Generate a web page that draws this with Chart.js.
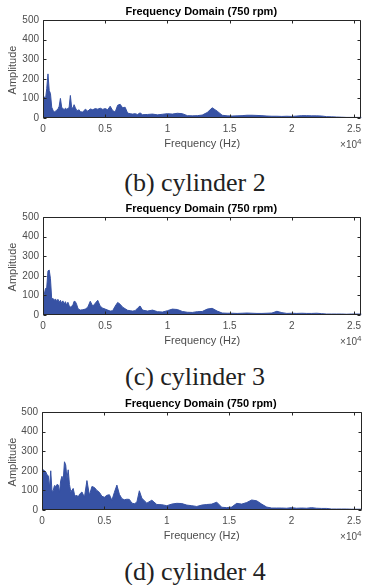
<!DOCTYPE html>
<html><head><meta charset="utf-8">
<script src="https://cdn.jsdelivr.net/npm/chart.js@4.4.0/dist/chart.umd.min.js"></script>
<style>
html,body{margin:0;padding:0;background:#fff;width:366px;height:585px;overflow:hidden;}
.blk{position:absolute;left:0;width:366px;height:160px;}
canvas{position:absolute;left:0;top:0;}
.cap{position:absolute;left:12px;width:366px;text-align:center;font-family:"Liberation Serif","Times New Roman",serif;font-size:26px;color:#222;line-height:30px;white-space:nowrap;}
</style></head><body>
<div class="blk" style="top:0px"><canvas id="c1" width="366" height="160"></canvas></div>
<div class="cap" id="cap1" style="top:168px"></div>
<div class="blk" style="top:195px"><canvas id="c2" width="366" height="160"></canvas></div>
<div class="cap" id="cap2" style="top:362px"></div>
<div class="blk" style="top:390px"><canvas id="c3" width="366" height="160"></canvas></div>
<div class="cap" id="cap3" style="top:557px"></div>
<script>
// ---- data ----
const freqHz = [
  0,100,200,300,400,500,600,700,800,900,1000,1100,1200,1300,1400,1500,1600,1700,1800,1900,2000,
  2100,2200,2300,2400,2500,2600,2700,2800,2900,3000,
  3200,3400,3600,3800,4000,4200,4400,4600,4800,5000,5200,5400,5600,5800,6000,6200,6400,6600,6800,
  7000,7200,7400,7600,7800,8000,
  8400,8800,9200,9600,10000,10400,10800,11200,11600,12000,12400,12800,13200,13600,14000,14400,
  14800,15200,15600,16000,16400,16800,17200,17600,18000,18400,18800,19200,19600,20000,20400,
  20800,21200,21600,22000,22400,22800,23200,23600,24000,24400,24800,25200,25600
];
const ampCyl2 = [
  105,108,95,150,225,140,125,55,40,30,35,40,45,60,100,55,48,42,50,45,48,55,115,55,50,68,52,40,38,42,32,
  30,45,35,46,42,48,45,50,44,48,42,60,38,30,65,70,52,55,25,22,20,22,18,26,17,
  18,20,16,19,22,20,24,22,12,11,12,15,28,52,35,14,11,10,11,12,14,14,13,12,10,9,9,8,9,8,10,12,12,11,11,10,7,6,5,4,3,3,3,3
];
const ampCyl3 = [
  100,105,135,140,225,229,185,80,85,75,82,70,80,65,75,60,72,55,68,50,65,48,40,45,50,70,68,55,35,28,25,
  27,30,40,70,45,60,75,45,35,30,25,20,22,45,64,55,40,32,24,22,20,22,35,46,25,
  20,25,17,15,22,30,28,18,14,13,17,18,30,34,20,10,9,9,8,9,10,9,8,8,9,10,19,12,8,9,8,9,8,8,9,7,5,5,5,5,4,5,5,5
];
const ampCyl4 = [
  190,205,200,195,180,175,115,200,95,100,125,120,130,128,90,150,172,150,246,230,160,205,130,95,100,110,80,70,75,65,80,
  92,65,150,75,120,115,100,90,70,65,75,78,50,90,127,80,58,52,55,54,35,32,40,98,60,
  35,50,28,27,22,30,34,33,25,22,18,25,28,30,40,14,12,15,34,30,38,51,47,30,15,10,10,10,9,12,9,10,9,12,9,8,8,5,5,5,5,4,4,4
];
const xTickHz = [0,5000,10000,15000,20000,25000];
const xTickLabels = ['0','0.5','1','1.5','2','2.5'];
const yTicks = [0,100,200,300,400,500];
const xMaxHz = 25600;
const titleText = 'Frequency Domain (750 rpm)';
const xTitle = 'Frequency (Hz)';
const yTitle = 'Amplitude';
const captions = ['(b) cylinder 2','(c) cylinder 3','(d) cylinder 4'];

const BLUE = 'rgb(55,82,164)';
const FONT = '"Liberation Sans", Arial, sans-serif';
const GREY = '#4d4d4d';

const matlabBox = {
  id: 'matlabBox',
  afterDatasetsDraw(chart) {
    const {ctx, chartArea: {left, right, top, bottom}, scales: {x, y}} = chart;
    const L = Math.round(left) + 0.5, R = Math.round(right) - 0.5;
    const T = Math.round(top) + 0.5, B = Math.round(bottom) - 0.5;
    ctx.save();
    ctx.strokeStyle = '#262626';
    ctx.lineWidth = 1;
    ctx.beginPath();
    ctx.rect(L, T, R - L, B - T);
    xTickHz.forEach(v => {
      const px = Math.round(x.getPixelForValue(v)) + 0.5;
      ctx.moveTo(px, B); ctx.lineTo(px, B - 3);
      ctx.moveTo(px, T); ctx.lineTo(px, T + 3);
    });
    yTicks.forEach(v => {
      const py = Math.round(y.getPixelForValue(v)) + 0.5;
      ctx.moveTo(L, py); ctx.lineTo(L + 3, py);
      ctx.moveTo(R, py); ctx.lineTo(R - 3, py);
    });
    ctx.stroke();
    // title
    ctx.fillStyle = '#000';
    ctx.font = 'bold 11px ' + FONT;
    ctx.textAlign = 'center';
    ctx.textBaseline = 'middle';
    ctx.fillText(titleText, (left + right) / 2 - 1, top - 8);
    // x title
    ctx.fillStyle = GREY;
    ctx.font = '11px ' + FONT;
    ctx.fillText(xTitle, (left + right) / 2, bottom + 26);
    // exponent
    ctx.textAlign = 'right';
    ctx.font = '8px ' + FONT;
    const w4 = ctx.measureText('4').width;
    ctx.fillText('4', right, bottom + 23.5);
    ctx.font = '10px ' + FONT;
    ctx.fillText('\u00d710', right - w4, bottom + 27.5);
    // y title
    ctx.translate(13, (top + bottom) / 2 + 1);
    ctx.rotate(-Math.PI / 2);
    ctx.textAlign = 'center';
    ctx.font = '11px ' + FONT;
    ctx.fillText(yTitle, 0, 0);
    ctx.restore();
  }
};

function makeChart(id, amp, padTop, leftW, xAxisH) {
  return new Chart(document.getElementById(id), {
    type: 'line',
    data: {
      datasets: [{
        data: freqHz.map((f, i) => ({x: f, y: amp[i]})),
        borderColor: BLUE,
        backgroundColor: BLUE,
        borderWidth: 1,
        pointRadius: 0,
        tension: 0,
        fill: 'origin'
      }]
    },
    options: {
      responsive: false,
      animation: false,
      events: [],
      layout: {padding: {top: padTop, left: 0, right: 1, bottom: 0}},
      plugins: {legend: {display: false}, title: {display: false}, tooltip: {enabled: false}},
      scales: {
        x: {
          type: 'linear', min: 0, max: xMaxHz,
          grid: {display: false, drawTicks: false},
          border: {display: false},
          afterBuildTicks: s => { s.ticks = xTickHz.map(v => ({value: v})); },
          afterFit: s => { s.height = xAxisH; },
          ticks: {
            autoSkip: false, maxRotation: 0, padding: 5,
            color: GREY, font: {family: FONT, size: 10},
            callback: v => xTickLabels[xTickHz.indexOf(v)]
          }
        },
        y: {
          type: 'linear', min: 0, max: 500,
          grid: {display: false, drawTicks: false},
          border: {display: false},
          afterBuildTicks: s => { s.ticks = yTicks.map(v => ({value: v})); },
          afterFit: s => { s.width = leftW; },
          ticks: {padding: 4, color: GREY, font: {family: FONT, size: 10}}
        }
      }
    },
    plugins: [matlabBox]
  });
}

makeChart('c1', ampCyl2, 20, 43, 42);
makeChart('c2', ampCyl3, 22, 43, 40);
makeChart('c3', ampCyl4, 22, 42, 40);
document.getElementById('cap1').textContent = captions[0];
document.getElementById('cap2').textContent = captions[1];
document.getElementById('cap3').textContent = captions[2];
</script>
</body></html>
